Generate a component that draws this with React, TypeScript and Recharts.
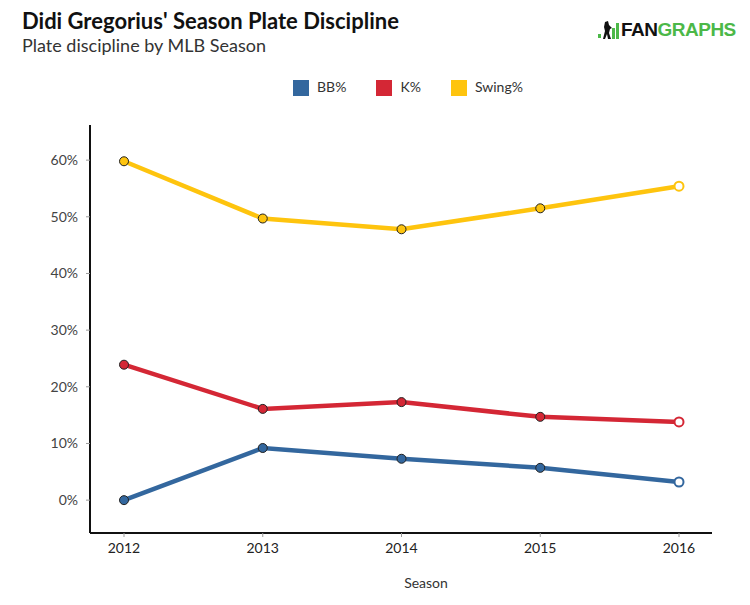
import { LineChart, Line, XAxis, YAxis, Legend } from "recharts"

const seasons = ["2012", "2013", "2014", "2015", "2016"]
const bbPct = [0.0, 9.2, 7.3, 5.7, 3.2]
const kPct = [23.9, 16.1, 17.3, 14.7, 13.8]
const swingPct = [59.8, 49.7, 47.8, 51.5, 55.4]
const yTicks = [0, 10, 20, 30, 40, 50, 60]

const BLUE = "#33679e"
const RED = "#d42735"
const YELLOW = "#fec40e"
const FONT = "Lato, 'Open Sans', sans-serif"

const chartData = seasons.map((season, i) => ({
  season,
  bb: bbPct[i],
  k: kPct[i],
  swing: swingPct[i],
}))

// last point is drawn hollow, the rest filled with a dark outline
const makeDot = (color: string) => (props: any) => {
  const { cx, cy, index } = props
  const last = index === seasons.length - 1
  return (
    <circle
      key={`dot-${color}-${index}`}
      cx={cx}
      cy={cy}
      r={4.5}
      fill={last ? "#ffffff" : color}
      stroke={last ? color : "#222222"}
      strokeWidth={last ? 2 : 1}
    />
  )
}

function Logo() {
  return (
    <div style={{ position: "absolute", left: 597, top: 19, display: "flex", alignItems: "center" }}>
      <svg width={24} height={22}>
        <rect x={1} y={15} width={3} height={4} fill="#4cb848" />
        <path d="M8 3 L11 2 L12 6 L15 9 L13 10 L12 14 L14 20 L11 20 L10 15 L8 20 L6 20 L8 12 L7 8 Z" fill="#111" />
        <rect x={15} y={9} width={3} height={11} fill="#4cb848" />
        <rect x={19} y={4} width={3} height={16} fill="#4cb848" />
      </svg>
      <span style={{ fontFamily: "'Liberation Sans', Arial, sans-serif", fontWeight: 700, fontSize: 19, letterSpacing: -0.5, lineHeight: "22px" }}>
        <span style={{ color: "#111" }}>FAN</span>
        <span style={{ color: "#4cb848" }}>GRAPHS</span>
      </span>
    </div>
  )
}

export default function App() {
  return (
    <div style={{ position: "absolute", left: 0, top: 0, width: 750, height: 605, background: "#fff", fontFamily: FONT }}>
      <div style={{ position: "absolute", left: 22, top: 7, fontSize: 22, fontWeight: 700, color: "#111" }}>
        Didi Gregorius' Season Plate Discipline
      </div>
      <div style={{ position: "absolute", left: 22, top: 34, fontSize: 18, color: "#333" }}>
        Plate discipline by MLB Season
      </div>
      <Logo />
      <div style={{ position: "absolute", left: 0, top: 0 }}>
        <LineChart width={750} height={605} data={chartData} margin={{ top: 125, right: 38, left: 0, bottom: 12 }}>
          <Legend
            verticalAlign="middle"
            align="center"
            iconType="square"
            iconSize={16}
            wrapperStyle={{ top: 78, left: 87, width: 672, fontFamily: FONT, fontSize: 14, lineHeight: "18px" }}
            formatter={(value: string) => <span style={{ color: "#333", marginLeft: 4, marginRight: 20 }}>{value}</span>}
          />
          <XAxis
            dataKey="season"
            padding={{ left: 34, right: 33 }}
            axisLine={{ stroke: "#111", strokeWidth: 2 }}
            tickLine={{ stroke: "#999" }}
            tickSize={4}
            tickMargin={6}
            tick={{ fill: "#222", fontSize: 14, fontFamily: FONT }}
            height={60}
            label={{ value: "Season", position: "insideBottom", offset: 5, dx: 25, fill: "#333", fontSize: 14, fontFamily: FONT }}
          />
          <YAxis
            type="number"
            domain={[-5.8, 66.2]}
            ticks={yTicks}
            tickFormatter={(v: number) => `${v}%`}
            width={90}
            axisLine={{ stroke: "#111", strokeWidth: 2 }}
            tickLine={{ stroke: "#999" }}
            tickSize={4}
            tickMargin={8}
            tick={{ fill: "#444", fontSize: 14, fontFamily: FONT }}
            allowDataOverflow
          />
          <Line name="BB%" dataKey="bb" stroke={BLUE} strokeWidth={4.5} dot={makeDot(BLUE)} isAnimationActive={false} legendType="square" />
          <Line name="K%" dataKey="k" stroke={RED} strokeWidth={4.5} dot={makeDot(RED)} isAnimationActive={false} legendType="square" />
          <Line name="Swing%" dataKey="swing" stroke={YELLOW} strokeWidth={4.5} dot={makeDot(YELLOW)} isAnimationActive={false} legendType="square" />
        </LineChart>
      </div>
    </div>
  )
}
